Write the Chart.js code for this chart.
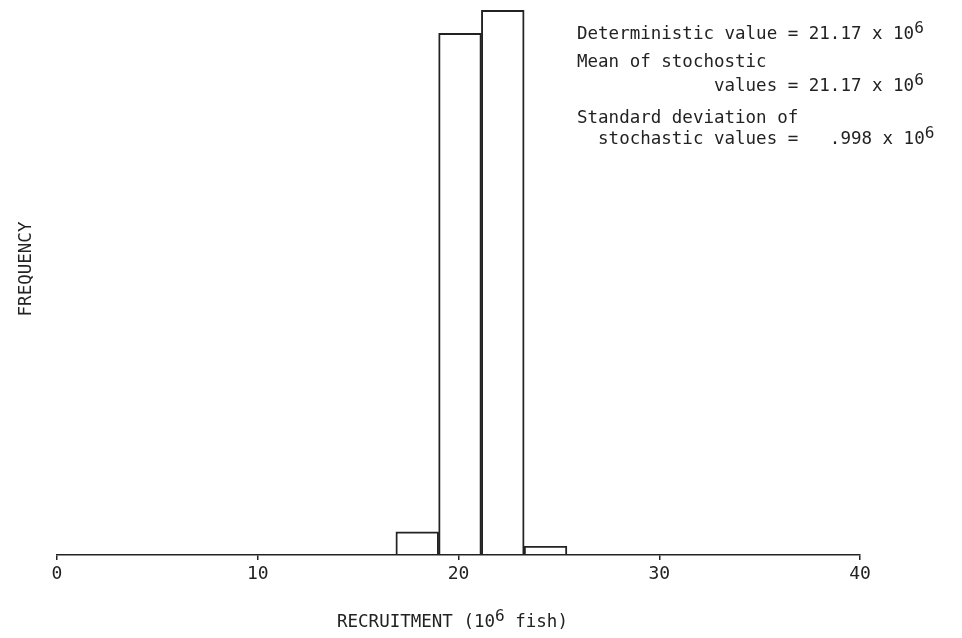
<!DOCTYPE html>
<html>
<head>
<meta charset="utf-8">
<script src="https://cdn.jsdelivr.net/npm/chart.js@4/dist/chart.umd.min.js"></script>
<style>
  html, body { margin: 0; padding: 0; background: #fff; }
  #wrap { width: 962px; height: 638px; }
</style>
</head>
<body>
<div id="wrap"><canvas id="c" width="962" height="638"></canvas></div>
<script>
// Recruitment histogram: bin edges (10^6 fish) and number of runs in each bin
const binEdges = [16.88, 19.01, 21.14, 23.27, 25.40];
const binCounts = [21, 475, 496, 8];
const xTicks = [0, 10, 20, 30, 40];

// Summary statistics printed beside the histogram
const deterministicValue = '21.17';
const stochasticMean = '21.17';
const stochasticSD = '.998';

const FONT = '"DejaVu Sans Mono", "Liberation Mono", monospace';
const INK = '#222';

const binCenters = binCounts.map((_, i) => (binEdges[i] + binEdges[i + 1]) / 2);
const points = binCounts.map((c, i) => ({ x: binCenters[i], y: c }));

// Draws a run of text pieces, raising the ones flagged as superscripts
function drawRun(ctx, parts, x, y, size) {
  let cx = x;
  for (const [t, sup] of parts) {
    ctx.font = (sup ? size * 0.92 : size) + 'px ' + FONT;
    ctx.fillText(t, cx, sup ? y - size * 0.36 : y);
    cx += ctx.measureText(t).width;
  }
  return cx;
}

const labelsPlugin = {
  id: 'labels',
  afterDraw(chart) {
    const ctx = chart.ctx;
    const size = 17.5;
    ctx.save();
    ctx.fillStyle = INK;
    ctx.textAlign = 'left';
    ctx.textBaseline = 'alphabetic';

    // statistics block
    const lx = 577;
    drawRun(ctx, [['Deterministic value = ' + deterministicValue + ' x 10', false], ['6', true]], lx, 39, size);
    drawRun(ctx, [['Mean of stochostic', false]], lx, 67, size);
    drawRun(ctx, [['             values = ' + stochasticMean + ' x 10', false], ['6', true]], lx, 91, size);
    drawRun(ctx, [['Standard deviation of', false]], lx, 123, size);
    drawRun(ctx, [['  stochastic values =   ' + stochasticSD + ' x 10', false], ['6', true]], lx, 144, size);

    // x-axis title
    drawRun(ctx, [['RECRUITMENT (10', false], ['6', true], [' fish)', false]], 337, 627, size);

    // y-axis title
    ctx.translate(26, 269);
    ctx.rotate(-Math.PI / 2);
    ctx.textAlign = 'center';
    ctx.textBaseline = 'middle';
    ctx.font = size + 'px ' + FONT;
    ctx.fillText('FREQUENCY', 0, 0);
    ctx.restore();
  }
};

new Chart(document.getElementById('c'), {
  type: 'bar',
  data: {
    datasets: [{
      data: points,
      backgroundColor: 'rgba(255,255,255,0)',
      borderColor: INK,
      borderWidth: 1.3,
      barPercentage: 1,
      categoryPercentage: 1
    }]
  },
  options: {
    responsive: false,
    animation: false,
    devicePixelRatio: 1,
    layout: { padding: { left: 57, right: 102, top: 6, bottom: 53 } },
    plugins: { legend: { display: false }, tooltip: { enabled: false } },
    scales: {
      x: {
        type: 'linear',
        min: 0,
        max: 40,
        offset: false,
        afterBuildTicks: s => { s.ticks = xTicks.map(v => ({ value: v })); },
        afterFit: s => { s.height = 30; },
        border: { display: true, color: INK, width: 1.5 },
        grid: { display: true, drawOnChartArea: false, drawTicks: true, tickLength: 5, color: INK, lineWidth: 1.5, offset: false },
        ticks: { color: INK, font: { family: FONT, size: 18 }, padding: 4, maxRotation: 0 }
      },
      y: {
        display: false,
        min: 0,
        max: 500
      }
    }
  },
  plugins: [labelsPlugin]
});
</script>
</body>
</html>
